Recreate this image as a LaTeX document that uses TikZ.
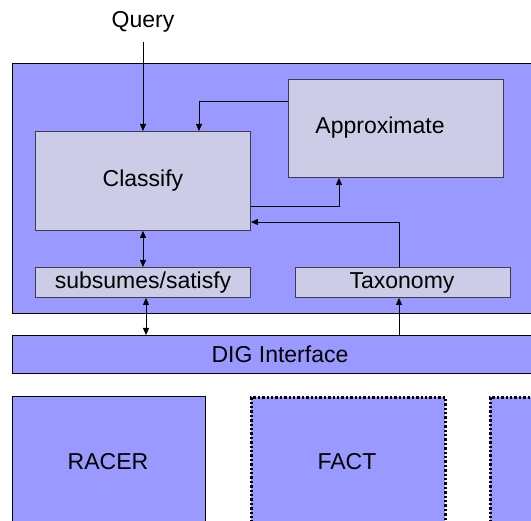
\documentclass[tikz,border=0pt]{standalone}
\usepackage{fontspec}
\setmainfont{Liberation Sans}
\usetikzlibrary{arrows.meta}
\definecolor{outerblue}{RGB}{153,153,255}
\definecolor{innerlav}{RGB}{204,204,230}
\definecolor{edgegrey}{RGB}{60,60,70}
\tikzset{
  lbl/.style={font=\fontsize{23}{27}\selectfont, text=black},
  outerbox/.style={draw=black, fill=outerblue, line width=0.9pt, anchor=north west, inner sep=0pt},
  innerbox/.style={draw=edgegrey, fill=innerlav, line width=0.9pt, anchor=north west, inner sep=0pt},
  enginebox/.style={fill=outerblue, anchor=north west, inner sep=0pt},
  dotbox/.style={enginebox, draw=black, line width=2.6pt, dash pattern=on 2.4pt off 2pt},
  conn/.style={draw=black, line width=0.9pt},
  tip/.style={-{Triangle[length=7pt,width=6pt]}},
  both/.style={{Triangle[length=7pt,width=6pt]}-{Triangle[length=7pt,width=6pt]}}
}
\begin{document}
\begin{tikzpicture}[x=1pt,y=-1pt]
\useasboundingbox (0,0) rectangle (531,521);
\clip (0,0) rectangle (531,521);
\fill[white] (0,0) rectangle (531,521);
% outer system box
\node[outerbox, minimum width=560pt, minimum height=250pt] (sys) at (12,63) {};
% inner boxes
\node[innerbox, minimum width=215pt, minimum height=99pt] (classify) at (35,131) {};
\node[lbl] at (143,181) {Classify};
\node[innerbox, minimum width=215pt, minimum height=98pt] (approx) at (288,79) {};
\node[lbl] at (380,128) {Approximate};
\node[innerbox, minimum width=215pt, minimum height=30pt] (subs) at (35,267) {};
\node[lbl] at (143,283) {subsumes/satisfy};
\node[innerbox, minimum width=215pt, minimum height=30pt] (tax) at (295,267) {};
\node[lbl] at (402,283) {Taxonomy};
% DIG interface
\node[outerbox, minimum width=560pt, minimum height=38pt] (dig) at (12,335) {};
\node[lbl] at (280,354) {DIG Interface};
% engines
\node[enginebox, draw=black, line width=0.9pt, minimum width=193pt, minimum height=140pt] (racer) at (12,396) {};
\node[lbl] at (108,462) {RACER};
\node[dotbox, minimum width=194pt, minimum height=140pt] (fact) at (250,396) {};
\node[lbl] at (347,462) {FACT};
\node[dotbox, minimum width=194pt, minimum height=140pt] (third) at (489,396) {};
% query
\node[lbl] (query) at (143,22) {Query};
% connectors
\coordinate (q0) at (143,42);
\draw[conn, tip] (q0) -- (classify.north -| q0);
\draw[conn, tip] (approx.west |- 0,101) -- (199,101) -- (classify.north -| 199,0);
\draw[conn, tip] (classify.east |- 0,206) -- (339,206) -- (approx.south -| 339,0);
\draw[conn, tip] (tax.north -| 399,0) -- (399,222) -- (classify.east |- 0,222);
\draw[conn, both] (classify.south -| 143,0) -- (subs.north -| 143,0);
\draw[conn, both] (subs.south -| 146,0) -- (dig.north -| 146,0);
\draw[conn, tip] (dig.north -| 399,0) -- (tax.south -| 399,0);
\end{tikzpicture}
\end{document}
